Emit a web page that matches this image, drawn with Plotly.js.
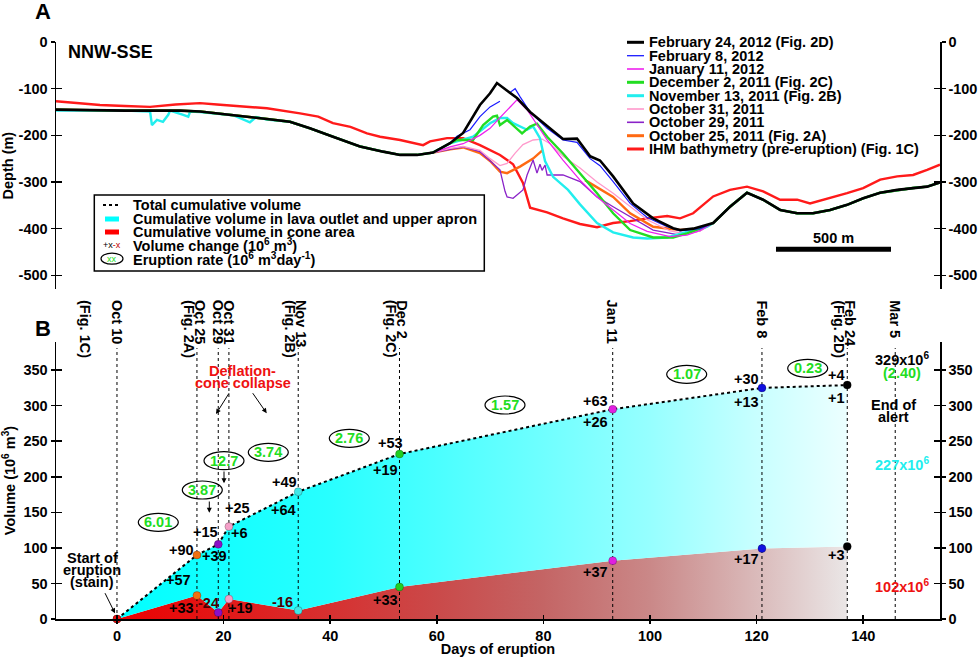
<!DOCTYPE html>
<html><head><meta charset="utf-8">
<script src="https://cdn.plot.ly/plotly-3.0.1.min.js"></script>
<style>body{margin:0;background:#fff}#chart{width:978px;height:657px}</style>
</head><body><div id="chart"></div>
<script>
// ================= PANEL A : depth profiles (distance along profile, m ; depth, m) =================
const baseLeftX = [0, 100, 191, 300, 409, 539, 626, 700, 770, 843, 917, 1017, 1104, 1204, 1322, 1422, 1496, 1570, 1639];
const baseLeftY = [-145, -146, -146, -147, -147, -147, -149, -153, -156, -160, -165, -171, -185, -203, -224, -235, -242, -242, -237];
const baseRightX = [2857, 2930, 3004, 3074, 3148, 3222, 3291, 3365, 3439, 3509, 3583, 3657, 3726, 3787, 3843];
const baseRightY = [-388, -353, -323, -338, -360, -367, -367, -360, -349, -335, -323, -317, -313, -310, -301];

const feb24MidX = [1713, 1770, 1843, 1887, 1917, 1961, 2004, 2061, 2135, 2204, 2265, 2322, 2365, 2422, 2509, 2596, 2683, 2713, 2770];
const feb24MidY = [-217, -195, -135, -110, -88, -105, -120, -150, -181, -208, -207, -245, -254, -288, -346, -378, -399, -403, -400];

const feb8MidX = [1713, 1743, 1800, 1843, 1887, 1930, 1950, 1974, 1996, 2017, 2061, 2135, 2204, 2265, 2322, 2365, 2422, 2496, 2570, 2657, 2713, 2800];
const feb8MidY = [-217, -202, -188, -160, -139, -127, null, -108, -100, -117, -150, -185, -210, -215, -250, -265, -299, -346, -376, -396, -405, -400];

const jan11MidX = [1713, 1770, 1843, 1887, 1930, 1974, 2004, 2048, 2135, 2204, 2278, 2352, 2422, 2496, 2570, 2670, 2743, 2800];
const jan11MidY = [-225, -218, -200, -185, -162, -138, -124, -145, -210, -253, -296, -332, -360, -389, -406, -417, -414, -404];

const dec2MidX = [1713, 1743, 1813, 1857, 1900, 1917, 1930, 1961, 2026, 2061, 2091, 2113, 2135, 2204, 2278, 2352, 2422, 2496, 2596, 2683, 2743, 2800];
const dec2MidY = [-217, -210, -210, -178, -160, -158, -178, -167, -196, -181, -175, -190, -203, -239, -281, -324, -367, -403, -419, -419, -410, -400];

const nov13LeftX = [0, 300, 409, 417, 439, 465, 488, 496, 553, 575, 583, 626, 770, 843, 870, 917, 1017, 1104, 1204, 1322, 1422, 1496, 1570, 1639];
const nov13LeftY = [-147, -147, -149, -178, -167, -171, -156, -147, -156, -160, -149, -150, -157, -172, -161, -166, -171, -185, -203, -224, -235, -242, -242, -237];
const nov13MidX = [1713, 1743, 1813, 1887, 1930, 1961, 1987, 2048, 2074, 2104, 2126, 2161, 2226, 2278, 2352, 2422, 2509, 2570, 2657, 2743, 2830];
const nov13MidY = [-217, -213, -203, -174, -163, -163, -174, -188, -181, -206, -255, -289, -317, -348, -388, -408, -419, -421, -419, -407, -396];

const oct31MidX = [1713, 1770, 1843, 1887, 1930, 1961, 1996, 2030, 2074, 2113, 2148, 2204, 2278, 2352, 2422, 2496, 2570, 2670, 2743, 2800];
const oct31MidY = [-228, -224, -232, -250, -265, -260, -238, -220, -210, -208, -218, -245, -270, -300, -324, -352, -381, -405, -412, -405];

const oct29MidX = [1713, 1770, 1843, 1887, 1930, 1952, 1961, 1987, 2030, 2048, 2074, 2091, 2104, 2113, 2126, 2135, 2204, 2278, 2352, 2422, 2496, 2596, 2713, 2800];
const oct29MidY = [-230, -225, -235, -255, -274, -320, -332, -335, -317, -285, -253, -281, -262, -275, -264, -285, -285, -299, -332, -353, -374, -403, -414, -405];

const oct25MidX = [1713, 1770, 1843, 1887, 1930, 1961, 2017, 2074, 2117, 2200, 2300, 2422, 2496, 2596, 2713, 2800];
const oct25MidY = [-230, -226, -238, -255, -278, -281, -267, -250, -231, null, -296, -332, -367, -396, -403, -400];

const ihmX = [0, 100, 191, 300, 409, 520, 626, 700, 770, 843, 917, 1061, 1140, 1204, 1280, 1352, 1409, 1496, 1596, 1626, 1700, 1770, 1843, 1930, 1987, 2030, 2061, 2135, 2204, 2278, 2352, 2422, 2496, 2570, 2657, 2713, 2770, 2857, 2930, 3004, 3074, 3148, 3222, 3278, 3365, 3439, 3509, 3583, 3657, 3726, 3787, 3843];
const ihmY = [-127, -131, -135, -137, -139, -134, -131, -134, -137, -140, -142, -153, -160, -174, -182, -196, -203, -210, -221, -213, -206, -206, -221, -242, -262, -302, -355, -365, -378, -390, -397, -388, -384, -378, -373, -378, -367, -331, -317, -310, -320, -338, -338, -346, -335, -324, -313, -295, -288, -285, -274, -263];

const profileNames = ['February 24, 2012 (Fig. 2D)', 'February 8, 2012', 'January 11, 2012', 'December 2, 2011 (Fig. 2C)', 'November 13, 2011 (Fig. 2B)', 'October 31, 2011', 'October 29, 2011', 'October 25, 2011 (Fig. 2A)', 'IHM bathymetry (pre-eruption) (Fig. 1C)'];
const depthTicks = [0, -100, -200, -300, -400, -500];

// ================= PANEL B : cumulative volumes =================
const days = [0, 15, 19, 21, 34, 53, 93, 121, 137];
const totalVol = [0, 90, 105, 130, 179, 232, 295, 325, 329];
const coneVol = [0, 33, 9, 28, 12, 45, 82, 99, 102];
const eventDays = [0, 15, 19, 21, 34, 53, 93, 121, 137, 146];
const eventLabels = ['Oct 10', 'Oct 25', 'Oct 29', 'Oct 31', 'Nov 13', 'Dec 2', 'Jan 11', 'Feb 8', 'Feb 24', 'Mar 5'];
const eventFigs = ['', '(Fig. 2A)', '', '', '(Fig. 2B)', '(Fig. 2C)', '', '', '(Fig. 2D)', ''];
const rateLabels = ['6.01', '3.87', '12.7', '3.74', '2.76', '1.57', '1.07', '0.23'];
const dayTicks = [0, 20, 40, 60, 80, 100, 120, 140];
const volTicks = [0, 50, 100, 150, 200, 250, 300, 350];

// ---------------- styles / layout helpers ----------------
const F = 'Liberation Sans, Arial, sans-serif';
const FS = 14.5;
const fnt = (size, color, weight) => ({family: F, size: size, color: color || '#000', weight: weight || 'bold'});
const px = x => (x - 56) / 884;
const py = y => (619 - y) / 577;
const ann = [], shp = [];
function T(text, x, y, o) {
  ann.push(Object.assign({text: text, xref: 'paper', yref: 'paper', x: px(x), y: py(y), showarrow: false,
    xanchor: 'center', yanchor: 'middle', font: fnt(FS)}, o || {}));
}
function ARROW(hx, hy, tx, ty) {
  ann.push({text: '', xref: 'paper', yref: 'paper', x: px(hx), y: py(hy), ax: tx - hx, ay: ty - hy,
    showarrow: true, arrowhead: 2, arrowsize: 1, arrowwidth: 1, arrowcolor: '#000'});
}
function ELL(cx, cy, w, h) {
  shp.push({type: 'circle', xref: 'paper', yref: 'paper', x0: px(cx - w / 2), x1: px(cx + w / 2),
    y0: py(cy + h / 2), y1: py(cy - h / 2), line: {color: '#000', width: 1.2}, fillcolor: 'rgba(0,0,0,0)'});
}

// ---------------- traces ----------------
const traces = [];
function prof(xs, ys, color, width) {
  traces.push({type: 'scatter', mode: 'lines', x: xs, y: ys, xaxis: 'x', yaxis: 'y',
    line: {color: color, width: width}, connectgaps: false, hoverinfo: 'skip', showlegend: false});
}
function carrier(xa, ya) {
  traces.push({type: 'scatter', x: [null], y: [null], xaxis: xa, yaxis: ya, showlegend: false, hoverinfo: 'skip'});
}
const profColors = ['#000000', '#1a1aff', '#ee22ee', '#22dd22', '#22eeee', '#ff99cc', '#8a22c8', '#ff6a13', '#ff1a1a'];
const profWidths = [2.6, 1.2, 1.3, 2.4, 2.4, 1.3, 1.3, 2.4, 2.4];
prof(ihmX, ihmY, profColors[8], profWidths[8]);
prof(baseLeftX.concat(oct25MidX, baseRightX), baseLeftY.concat(oct25MidY, baseRightY), profColors[7], profWidths[7]);
prof(baseLeftX.concat(oct29MidX, baseRightX), baseLeftY.concat(oct29MidY, baseRightY), profColors[6], profWidths[6]);
prof(baseLeftX.concat(oct31MidX, baseRightX), baseLeftY.concat(oct31MidY, baseRightY), profColors[5], profWidths[5]);
prof(nov13LeftX.concat(nov13MidX, baseRightX), nov13LeftY.concat(nov13MidY, baseRightY), profColors[4], profWidths[4]);
prof(baseLeftX.concat(dec2MidX, baseRightX), baseLeftY.concat(dec2MidY, baseRightY), profColors[3], profWidths[3]);
prof(baseLeftX.concat(jan11MidX, baseRightX), baseLeftY.concat(jan11MidY, baseRightY), profColors[2], profWidths[2]);
prof(baseLeftX.concat(feb8MidX, baseRightX), baseLeftY.concat(feb8MidY, baseRightY), profColors[1], profWidths[1]);
prof(baseLeftX.concat(feb24MidX, baseRightX), baseLeftY.concat(feb24MidY, baseRightY), profColors[0], profWidths[0]);
carrier('x', 'y3'); carrier('x', 'y5'); carrier('x', 'y6');

// panel B fills
const redScale = [[0, 'rgb(236,0,0)'], [0.29, 'rgb(215,48,48)'], [0.44, 'rgb(202,74,74)'], [0.58, 'rgb(196,100,100)'], [0.73, 'rgb(202,136,136)'], [0.876, 'rgb(218,186,186)'], [1, 'rgb(234,230,230)']];
const cyanScale = [[0, 'rgb(0,255,255)'], [0.29, 'rgb(40,255,255)'], [0.44, 'rgb(75,255,255)'], [0.58, 'rgb(110,255,255)'], [0.73, 'rgb(150,255,255)'], [0.876, 'rgb(200,255,255)'], [1, 'rgb(236,255,255)']];
traces.push({type: 'scatter', mode: 'lines', x: days, y: coneVol, xaxis: 'x2', yaxis: 'y2', fill: 'tozeroy',
  fillgradient: {type: 'horizontal', colorscale: redScale}, line: {width: 0, color: 'rgba(0,0,0,0)'}, showlegend: false, hoverinfo: 'skip'});
traces.push({type: 'scatter', mode: 'lines', x: days, y: totalVol, xaxis: 'x2', yaxis: 'y2', fill: 'tonexty',
  fillgradient: {type: 'horizontal', colorscale: cyanScale}, line: {width: 2, color: '#000', dash: 'dot'}, showlegend: false, hoverinfo: 'skip'});
// event lines
const lineTop = 381;
const vx = [], vy = [];
eventDays.forEach(d => { vx.push(d, d, null); vy.push(0, lineTop, null); });
traces.push({type: 'scatter', mode: 'lines', x: vx, y: vy, xaxis: 'x2', yaxis: 'y2', line: {color: '#000', width: 1, dash: 'dot'}, showlegend: false, hoverinfo: 'skip'});
traces.push({type: 'scatter', mode: 'markers', x: eventDays, y: eventDays.map(() => -4), xaxis: 'x2', yaxis: 'y2', cliponaxis: false,
  marker: {symbol: 'triangle-down', size: 6, color: '#000'}, showlegend: false, hoverinfo: 'skip'});
const ptColors = ['#ee1010', '#f07010', '#8a10c8', '#f4a0c8', '#40e8e8', '#20d020', '#e020e0', '#1010e0', '#000000'];
traces.push({type: 'scatter', mode: 'markers', x: days, y: totalVol, xaxis: 'x2', yaxis: 'y2', cliponaxis: false,
  marker: {size: 8, color: ptColors, line: {width: 0.6, color: 'rgba(0,0,0,0.4)'}}, showlegend: false, hoverinfo: 'skip'});
traces.push({type: 'scatter', mode: 'markers', x: days, y: coneVol, xaxis: 'x2', yaxis: 'y2', cliponaxis: false,
  marker: {size: 8, color: ptColors, line: {width: 0.6, color: 'rgba(0,0,0,0.4)'}}, showlegend: false, hoverinfo: 'skip'});
carrier('x2', 'y4'); carrier('x2', 'y7'); carrier('x2', 'y8'); carrier('x3', 'y2');

// ---------------- annotations ----------------
T('A', 43, 12, {font: fnt(22)});
T('B', 43, 328, {font: fnt(22)});
T('NNW-SSE', 110, 52, {font: fnt(18)});

// legend A
const legRows = [42.3, 55.7, 69, 82.3, 95.7, 109, 122.3, 135.7, 149];
const legW = [3, 1.3, 1.6, 3, 3, 1.6, 1.6, 3, 3];
profileNames.forEach((n, i) => {
  shp.push({type: 'line', xref: 'paper', yref: 'paper', x0: px(627), x1: px(644), y0: py(legRows[i]), y1: py(legRows[i]), line: {color: profColors[i], width: legW[i]}});
  T(n, 647, legRows[i], {xanchor: 'left'});
});
// scale bar
shp.push({type: 'line', xref: 'x', yref: 'y', x0: 3130, x1: 3630, y0: -444, y1: -444, line: {color: '#000', width: 5}});
ann.push({text: '500 m', xref: 'x', yref: 'y', x: 3380, y: -420, showarrow: false, font: fnt(FS)});

// legend B box
shp.push({type: 'rect', xref: 'paper', yref: 'paper', x0: px(94.3), x1: px(484.3), y0: py(271), y1: py(195), line: {color: '#000', width: 1.5}, fillcolor: '#fff', layer: 'below'});
const lbRows = [205, 218.7, 232, 245.3, 258.7];
shp.push({type: 'line', xref: 'paper', yref: 'paper', x0: px(103), x1: px(120), y0: py(205), y1: py(205), line: {color: '#000', width: 2, dash: 'dot'}});
shp.push({type: 'rect', xref: 'paper', yref: 'paper', x0: px(105), x1: px(119), y0: py(221.5), y1: py(216.5), line: {width: 0}, fillcolor: '#00ffff'});
shp.push({type: 'rect', xref: 'paper', yref: 'paper', x0: px(105), x1: px(119), y0: py(234.5), y1: py(229.5), line: {width: 0}, fillcolor: '#ff0000'});
T('+x<span style="color:#c00000">-x</span>', 111.5, 245.3, {font: fnt(9, '#000', 'normal')});
ELL(112, 258.7, 22, 11);
T('xx', 112, 258.7, {font: fnt(9, '#22dd22', 'normal')});
const lbText = ['Total cumulative volume', 'Cumulative volume in lava outlet and upper apron', 'Cumulative volume in cone area',
  'Volume change (10<sup>6</sup> m<sup>3</sup>)', 'Eruption rate (10<sup>6</sup> m<sup>3</sup>day<sup>-1</sup>)'];
lbText.forEach((t, i) => T(t, 131, lbRows[i], {xanchor: 'left'}));

// event labels (rotated)
const evX = d => 117 + d * 5.327;
eventDays.forEach((d, i) => {
  const two = eventFigs[i] !== '';
  T(eventLabels[i], evX(d) + (two ? 3 : 0), 298, {yanchor: 'top', textangle: 90});
  if (two) T(eventFigs[i], evX(d) - 8, 298, {yanchor: 'top', textangle: 90});
});
T('(Fig. 1C)', 85, 298, {yanchor: 'top', textangle: 90});

// volume change labels (pixel positions)
const DR = '#4a0000';
[['+33', 181.7, 608], ['-24', 208.3, 603.3, DR], ['+19', 240.7, 608.3], ['-16', 282.7, 601.7, DR],
 ['+57', 178.3, 580], ['+90', 181.7, 550], ['+39', 214, 556], ['+15', 205, 531.7], ['+6', 239.3, 533.3],
 ['+25', 237.3, 508.3], ['+49', 284, 482.3], ['+64', 283.3, 510], ['+53', 390, 443.3], ['+19', 385.3, 470],
 ['+33', 385.7, 600], ['+63', 595.3, 401], ['+26', 595.3, 421.7], ['+37', 595.3, 572.3],
 ['+30', 746, 379], ['+13', 746, 401.7], ['+17', 746, 559], ['+4', 836, 375], ['+1', 836, 398.3], ['+3', 836, 555]
].forEach(a => T(a[0], a[1], a[2], {font: fnt(FS, a[3] || '#000')}));

// eruption-rate ellipses
const ratePos = [[158.3, 522.3], [202.3, 490], [224, 460.7], [268.3, 452.3], [349.3, 438.3], [505, 405], [686.7, 374.3], [807.7, 368.3]];
rateLabels.forEach((r, i) => { ELL(ratePos[i][0], ratePos[i][1], 40, 18); T(r, ratePos[i][0], ratePos[i][1], {font: fnt(FS, '#22dd22')}); });

T('Start of', 92.3, 558);
T('eruption', 92.3, 570);
T('(stain)', 92.3, 582);
ARROW(115, 613.3, 104.3, 591.7);
T('Deflation-', 242.7, 370.5, {font: fnt(FS, '#ee1111')});
T('cone collapse', 242.7, 383, {font: fnt(FS, '#ee1111')});
ARROW(216, 414, 230, 391.7);
ARROW(266.7, 413.3, 251.7, 391.7);
ARROW(224, 483.3, 224, 470);
ARROW(209.3, 512.7, 209.3, 500);
T('329x10<sup>6</sup>', 901.7, 359.3);
T('(2.40)', 901.7, 373.3, {font: fnt(FS, '#22dd22')});
T('End of', 893.3, 405);
T('alert', 893.3, 416.7);
T('227x10<sup>6</sup>', 901.7, 464, {font: fnt(FS, '#22eeee')});
T('102x10<sup>6</sup>', 901.7, 585.7, {font: fnt(FS, '#ee1111')});

// ---------------- layout ----------------
const axCommon = {showgrid: false, zeroline: false, showline: true, linecolor: '#000', linewidth: 1.5,
  ticks: 'outside', ticklen: 4, tickwidth: 1.5, tickcolor: '#000', tickfont: fnt(FS)};
const inTicks = {showgrid: false, zeroline: false, showline: false, ticks: 'inside', ticklen: 6, tickwidth: 1.5,
  tickcolor: '#000', showticklabels: false};
const layout = {
  width: 978, height: 657, margin: {l: 56, r: 38, t: 42, b: 38}, paper_bgcolor: '#fff', plot_bgcolor: 'rgba(0,0,0,0)',
  font: fnt(FS), showlegend: false,
  xaxis: {domain: [0, 1], range: [0, 3843], visible: false, anchor: 'y', fixedrange: true},
  yaxis: Object.assign({}, axCommon, {domain: [0.5714, 1], range: [-530, 0], anchor: 'x', tickvals: depthTicks,
    ticktext: depthTicks.map(String), title: {text: 'Depth (m)', font: fnt(FS), standoff: 6}}),
  yaxis3: Object.assign({}, axCommon, {overlaying: 'y', side: 'right', anchor: 'x', range: [-530, 0], tickvals: depthTicks,
    ticktext: depthTicks.map(String)}),
  yaxis5: Object.assign({}, inTicks, {overlaying: 'y', side: 'left', anchor: 'x', range: [-530, 0], tickvals: depthTicks}),
  yaxis6: Object.assign({}, inTicks, {overlaying: 'y', side: 'right', anchor: 'x', range: [-530, 0], tickvals: depthTicks}),
  xaxis2: Object.assign({}, axCommon, {domain: [0, 1], range: [-11.44, 154.4], anchor: 'y2', tickvals: dayTicks, ticklen: 3,
    title: {text: 'Days of eruption', font: fnt(FS), standoff: 7}}),
  xaxis3: Object.assign({}, inTicks, {overlaying: 'x2', side: 'bottom', anchor: 'y2', range: [-11.44, 154.4], tickvals: dayTicks, ticklen: 4}),
  yaxis2: Object.assign({}, axCommon, {domain: [0, 0.4801], range: [0, 389.6], anchor: 'x2', tickvals: volTicks,
    title: {text: 'Volume (10<sup>6</sup> m<sup>3</sup>)', font: fnt(FS), standoff: 6}}),
  yaxis4: Object.assign({}, axCommon, {overlaying: 'y2', side: 'right', anchor: 'x2', range: [0, 389.6], tickvals: volTicks}),
  yaxis7: Object.assign({}, inTicks, {overlaying: 'y2', side: 'left', anchor: 'x2', range: [0, 389.6], tickvals: volTicks}),
  yaxis8: Object.assign({}, inTicks, {overlaying: 'y2', side: 'right', anchor: 'x2', range: [0, 389.6], tickvals: volTicks}),
  annotations: ann, shapes: shp
};
Plotly.newPlot('chart', traces, layout, {displayModeBar: false, staticPlot: true});
</script></body></html>
